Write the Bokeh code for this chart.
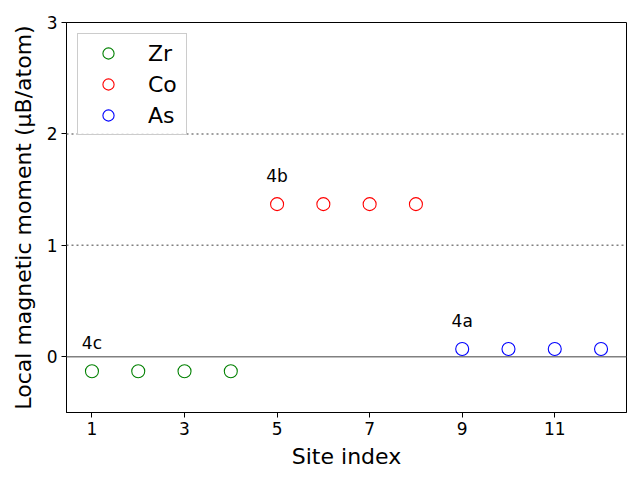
from bokeh.plotting import figure
from bokeh.models import Range1d, Span, FixedTicker, Legend, LegendItem
from bokeh.core.properties import value
from bokeh.embed import file_html
from bokeh.resources import INLINE

# Data
zr_sites = [1, 2, 3, 4]
zr_moment = [-0.13, -0.13, -0.13, -0.13]
co_sites = [5, 6, 7, 8]
co_moment = [1.37, 1.37, 1.37, 1.37]
as_sites = [9, 10, 11, 12]
as_moment = [0.07, 0.07, 0.07, 0.07]
series_names = ["Zr", "Co", "As"]
series_colors = ["green", "red", "blue"]
wyckoff_labels = ["4c", "4b", "4a"]
x_ticks = [1, 3, 5, 7, 9, 11]
y_ticks = [0, 1, 2, 3]
dotted_levels = [1, 2]
zero_level = 0

FONT = "DejaVu Sans"

p = figure(width=640, height=480, output_backend="svg", toolbar_location=None,
           x_range=Range1d(0.45, 12.55), y_range=Range1d(-0.5, 3.0),
           min_border_left=66, min_border_right=14, min_border_top=22, min_border_bottom=68)
p.background_fill_color = "white"
p.border_fill_color = "white"
p.outline_line_color = "black"
p.outline_line_width = 1
p.xgrid.visible = False
p.ygrid.visible = False

# reference lines
for lv in dotted_levels:
    p.add_layout(Span(location=lv, dimension="width", line_color="gray",
                      line_width=1.5, line_dash="2 3"))
p.add_layout(Span(location=zero_level, dimension="width", line_color="gray", line_width=1.5))

items = []
all_sites = [zr_sites, co_sites, as_sites]
all_moments = [zr_moment, co_moment, as_moment]
for name, color, xs, ys in zip(series_names, series_colors, all_sites, all_moments):
    r = p.scatter(x=xs, y=ys, size=13, marker="circle", fill_color=None,
                  line_color=color, line_width=1.1)
    items.append(LegendItem(label=name, renderers=[r]))

# site labels
lab_x = [s[0] for s in all_sites]
lab_y = [m[0] + 0.25 for m in all_moments]
p.text(x=lab_x, y=lab_y, text=wyckoff_labels, text_align="center", text_baseline="middle",
       text_font=value(FONT), text_font_size="17px", text_color="black")

legend = Legend(items=items, location="top_left", margin=11, padding=5, spacing=3,
                glyph_width=50, glyph_height=28, label_height=28, label_standoff=15,
                label_width=33, label_text_font=FONT, label_text_font_size="22px",
                label_text_color="black",
                border_line_color="#cccccc", border_line_alpha=1.0,
                background_fill_color="white", background_fill_alpha=0.8)
p.add_layout(legend)

for ax in (p.xaxis[0], p.yaxis[0]):
    ax.axis_line_color = "black"
    ax.major_tick_line_color = "black"
    ax.major_tick_out = 5
    ax.major_tick_in = 0
    ax.minor_tick_line_color = None
    ax.major_label_text_font = FONT
    ax.major_label_text_font_size = "17px"
    ax.major_label_text_color = "black"
    ax.axis_label_text_font = FONT
    ax.axis_label_text_font_size = "22px"
    ax.axis_label_text_font_style = "normal"
    ax.axis_label_text_color = "black"
    ax.major_label_standoff = 4

p.xaxis.ticker = FixedTicker(ticks=x_ticks)
p.yaxis.ticker = FixedTicker(ticks=y_ticks)
p.xaxis.axis_label = "Site index"
p.yaxis.axis_label = "Local magnetic moment (μB/atom)"
p.xaxis.axis_label_standoff = 6
p.yaxis.axis_label_standoff = 8

open("out.html", "w").write(file_html(p, INLINE))
